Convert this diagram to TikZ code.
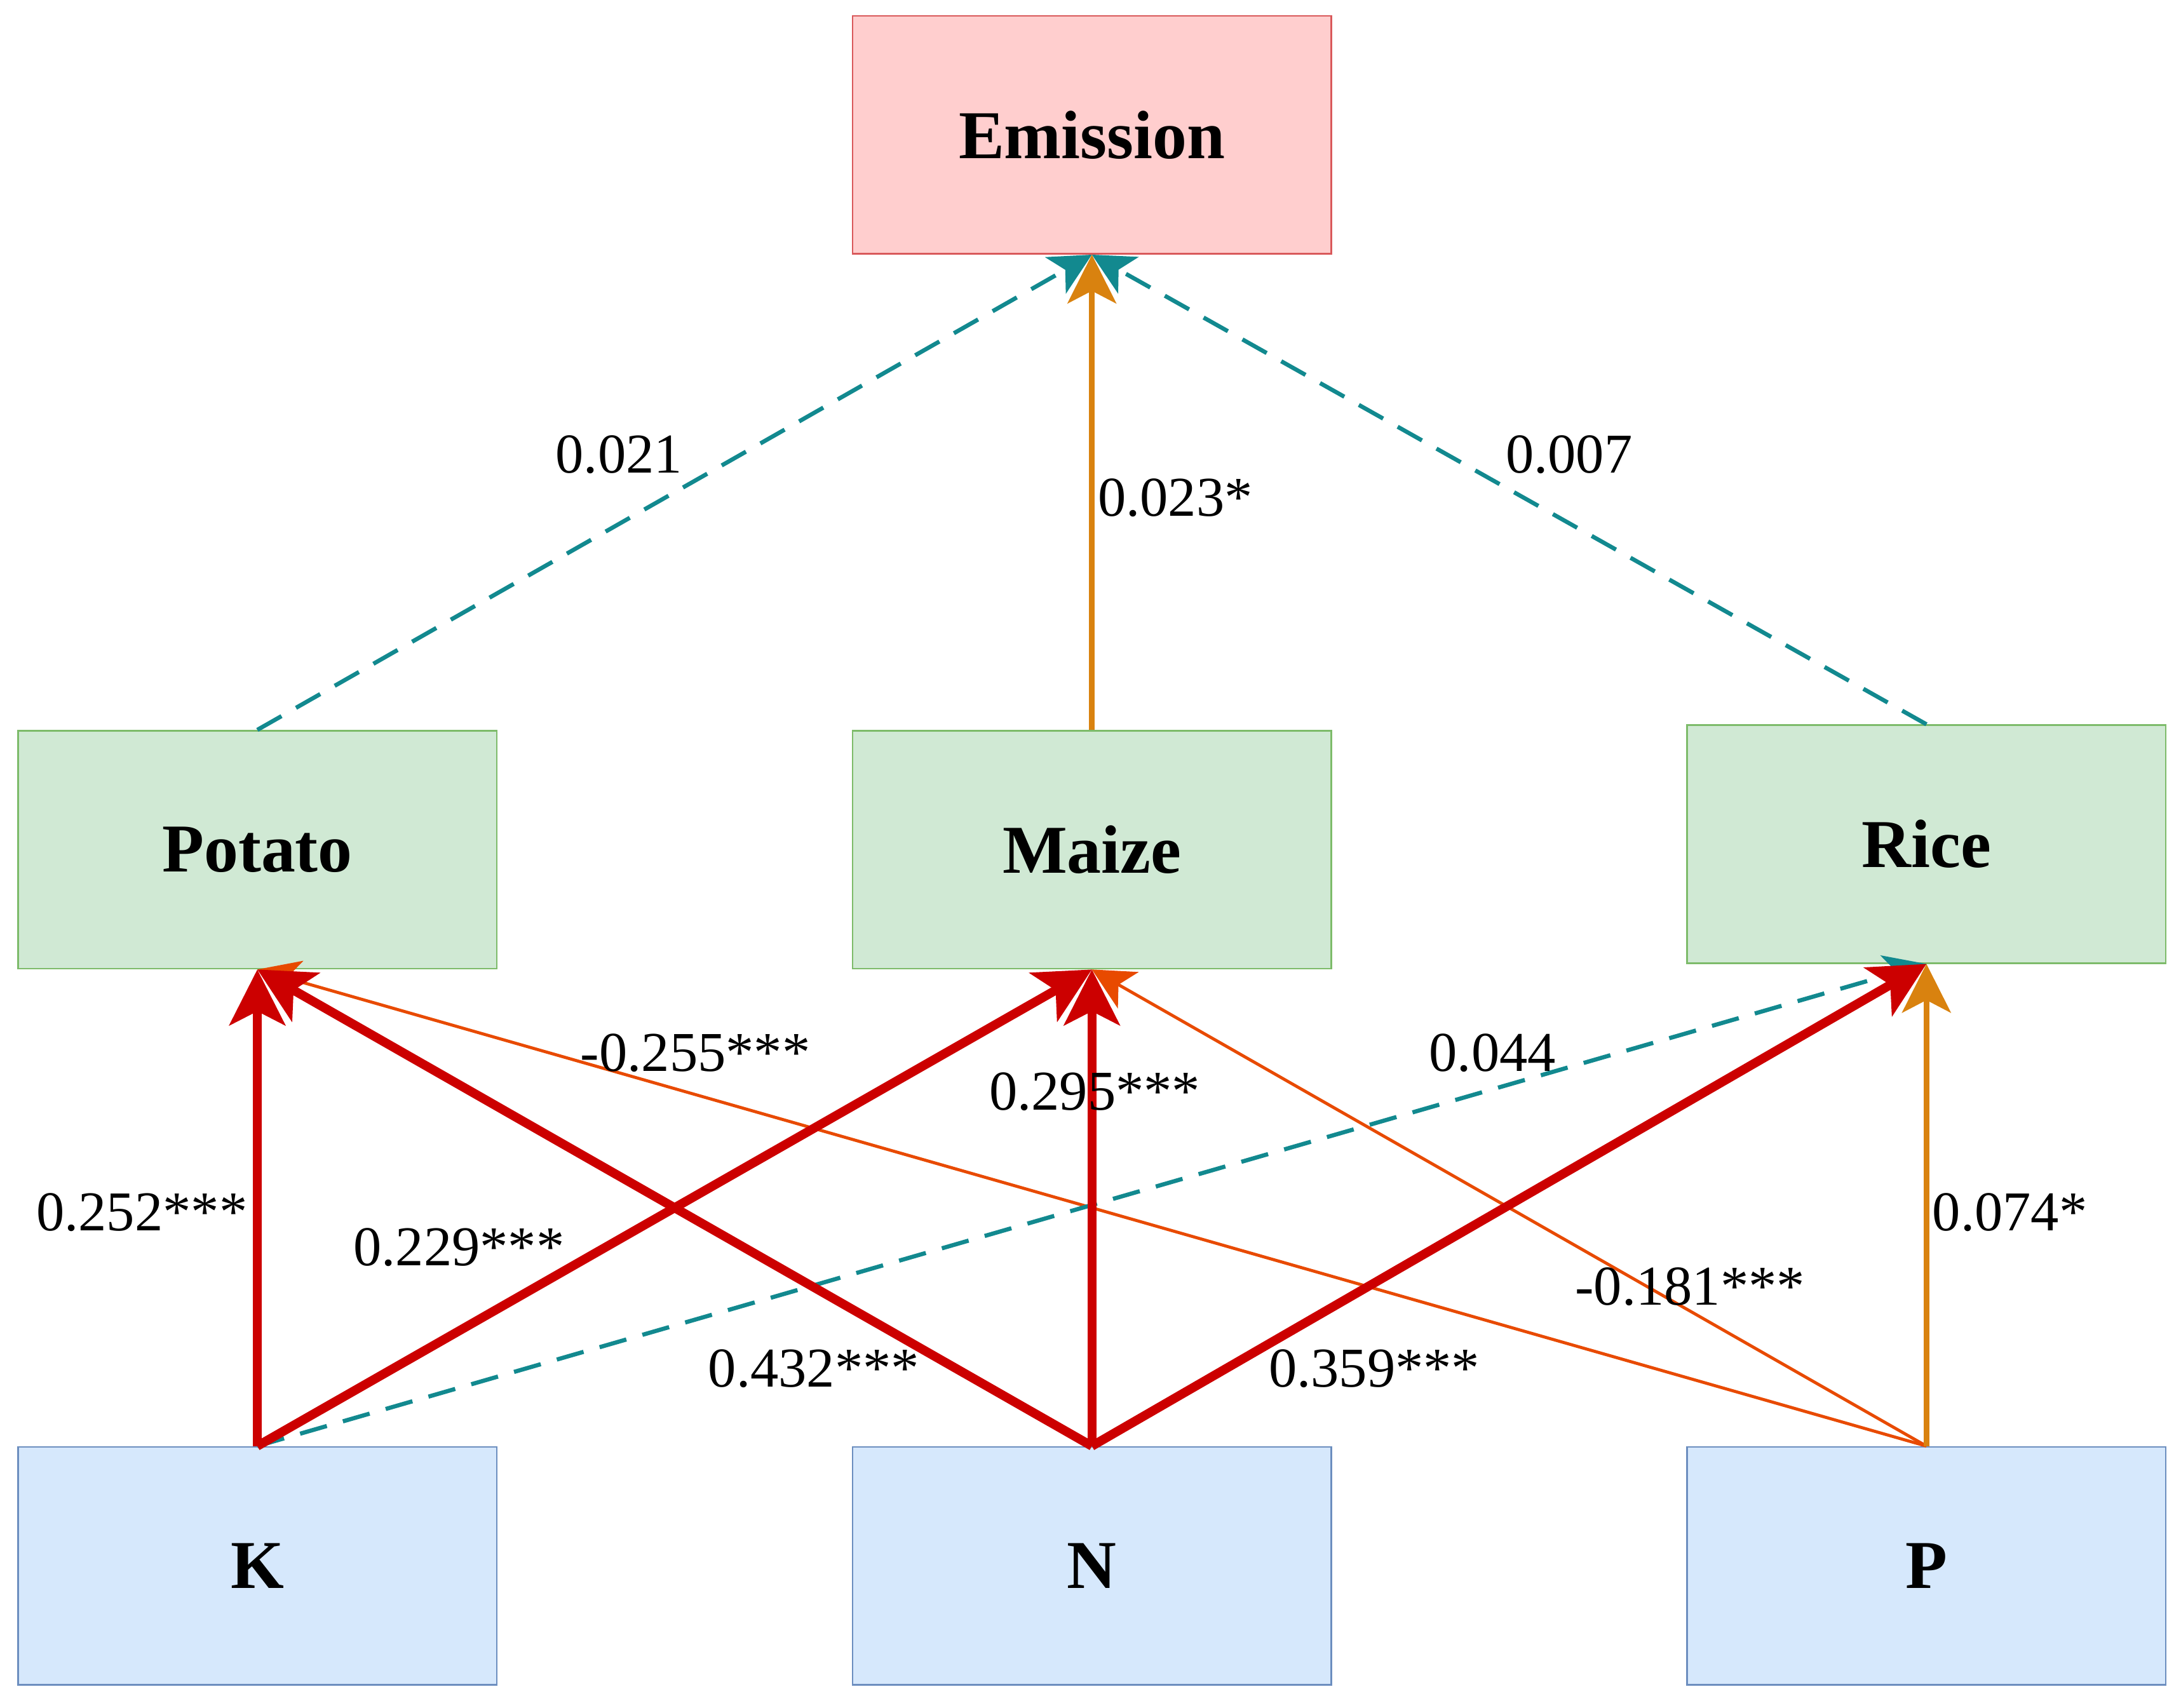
\documentclass[tikz,border=0pt]{standalone}
\usepackage{fontspec}
\setmainfont{Liberation Serif}
\usetikzlibrary{arrows.meta}
\definecolor{tealc}{HTML}{12898F}
\definecolor{redc}{HTML}{CC0000}
\definecolor{orredc}{HTML}{E84A00}
\definecolor{orc}{HTML}{D9820F}
\definecolor{efill}{HTML}{FFCECE}
\definecolor{edraw}{HTML}{D9595B}
\definecolor{gfill}{HTML}{D0E9D4}
\definecolor{gdraw}{HTML}{7DBB6A}
\definecolor{bfill}{HTML}{D6E8FC}
\definecolor{bdraw}{HTML}{6C8EBF}
\begin{document}
\begin{tikzpicture}[x=0.01cm,y=-0.01cm,
 box/.style={draw,line width=0.012cm,minimum width=3.44cm,minimum height=1.71cm,inner sep=0pt,font=\fontsize{14}{16}\selectfont\bfseries},
 emi/.style={box,fill=efill,draw=edraw},
 crop/.style={box,fill=gfill,draw=gdraw},
 nut/.style={box,fill=bfill,draw=bdraw},
 lab/.style={font=\fontsize{11.5}{13}\selectfont,inner sep=1pt},
 thick1/.style={draw=redc,line width=0.065cm,-{Stealth[length=0.4cm,width=0.4cm,inset=0.1cm]}},
 thin1/.style={draw=orredc,line width=0.022cm,-{Stealth[length=0.3cm,width=0.3cm,inset=0.08cm]}},
 mid1/.style={draw=orc,line width=0.04cm,-{Stealth[length=0.35cm,width=0.35cm,inset=0.09cm]}},
 dash1/.style={draw=tealc,line width=0.03cm,dash pattern=on 0.2cm off 0.12cm,-{Stealth[length=0.3cm,width=0.3cm,inset=0.08cm]}}]
\useasboundingbox (0,0) rectangle (1568,1228);
\node[emi] (E) at (785,97) {Emission};
\node[crop] (Po) at (185,611) {Potato};
\node[crop] (Ma) at (785,611) {Maize};
\node[crop] (Ri) at (1385,607) {Rice};
\node[nut] (K) at (185,1126) {K};
\node[nut] (N) at (785,1126) {N};
\node[nut] (P) at (1385,1126) {P};
\draw[dash1] (Po.north) -- (E.south);
\draw[dash1] (Ri.north) -- (E.south);
\draw[mid1] (Ma.north) -- (E.south);
\draw[thin1] (P.north) -- (Po.south);
\draw[thin1] (P.north) -- (Ma.south);
\draw[mid1] (P.north) -- (Ri.south);
\draw[dash1] (K.north) -- (Ri.south);
\draw[thick1] (K.north) -- (Po.south);
\draw[thick1] (K.north) -- (Ma.south);
\draw[thick1] (N.north) -- (Po.south);
\draw[thick1] (N.north) -- (Ma.south);
\draw[thick1] (N.north) -- (Ri.south);
\node[lab] (l1) at (445,327) {0.021};
\node[lab] (l2) at (845,358) {0.023*};
\node[lab] (l3) at (1128,327) {0.007};
\node[lab] (l4) at (102,872) {0.252***};
\node[lab] (l5) at (330,897) {0.229***};
\node[lab] (l6) at (500,757) {-0.255***};
\node[lab] (l7) at (787,785) {0.295***};
\node[lab] (l8) at (1073,757) {0.044};
\node[lab] (l9) at (1445,872) {0.074*};
\node[lab] (l10) at (1215,925) {-0.181***};
\node[lab] (l11) at (585,984) {0.432***};
\node[lab] (l12) at (988,984) {0.359***};
\end{tikzpicture}
\end{document}
